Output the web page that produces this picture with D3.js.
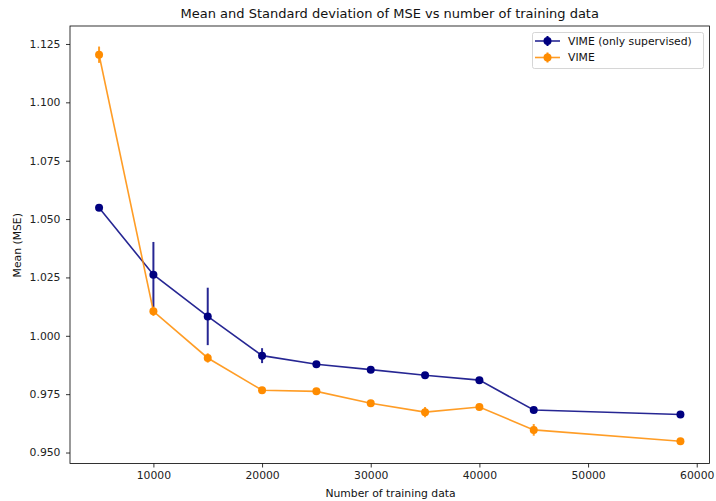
<!DOCTYPE html>
<html>
<head>
<meta charset="utf-8">
<script src="https://cdn.jsdelivr.net/npm/d3@7"></script>
<style>
  body { margin: 0; background: #fff; }
  svg { font-family: "DejaVu Sans", sans-serif; }
</style>
</head>
<body>
<svg id="chart" width="716" height="501"></svg>
<script>
// Training set sizes
const trainSizes = [5000, 10000, 15000, 20000, 25000, 30000, 35000, 40000, 45000, 58500];

// VIME (only supervised): mean MSE and standard deviation
const supMean = [1.0548, 1.0262, 1.0083, 0.9915, 0.9878, 0.9855, 0.9831, 0.9810, 0.9682, 0.9663];
const supStd  = [0.0005, 0.0140, 0.0123, 0.0032, 0.0010, 0.0010, 0.0010, 0.0010, 0.0010, 0.0010];

// VIME: mean MSE and standard deviation
const vimeMean = [1.1204, 1.0105, 0.9905, 0.9767, 0.9762, 0.9711, 0.9673, 0.9695, 0.9597, 0.9548];
const vimeStd  = [0.0035, 0.0020, 0.0020, 0.0010, 0.0010, 0.0010, 0.0022, 0.0010, 0.0025, 0.0010];

const xTicks = [10000, 20000, 30000, 40000, 50000, 60000];
const yTicks = [0.950, 0.975, 1.000, 1.025, 1.050, 1.075, 1.100, 1.125];

const series = [
  { name: "VIME (only supervised)", mean: supMean, std: supStd, color: "#000080" },
  { name: "VIME", mean: vimeMean, std: vimeStd, color: "#ff8c00" }
];

const svg = d3.select("#chart");
const plotL = 70, plotR = 709.5, plotT = 26, plotB = 463.5;
const fs = 10.8;

const x = d3.scaleLinear().domain([2325, 61175]).range([plotL, plotR]);
const y = d3.scaleLinear().domain([0.9453, 1.1327]).range([plotB, plotT]);

// Axes
const xAxis = svg.append("g")
  .attr("transform", `translate(0,${plotB})`)
  .call(d3.axisBottom(x).tickValues(xTicks).tickFormat(d3.format("d")).tickSize(4).tickPadding(4));
const yAxis = svg.append("g")
  .attr("transform", `translate(${plotL},0)`)
  .call(d3.axisLeft(y).tickValues(yTicks).tickFormat(d3.format(".3f")).tickSize(4).tickPadding(5.5));
[xAxis, yAxis].forEach(g => {
  g.select(".domain").remove();
  g.selectAll("text").attr("font-size", fs).attr("fill", "#222").attr("font-family", "DejaVu Sans, sans-serif");
  g.selectAll("line").attr("stroke", "#000").attr("stroke-width", 0.8);
});

// Frame
svg.append("rect")
  .attr("x", plotL).attr("y", plotT)
  .attr("width", plotR - plotL).attr("height", plotB - plotT)
  .attr("fill", "none").attr("stroke", "#000").attr("stroke-width", 0.8);

// Series: line, error bars, markers
const line = d3.line().x(d => x(d[0])).y(d => y(d[1]));
series.forEach(s => {
  const pts = trainSizes.map((t, i) => [t, s.mean[i], s.std[i]]);
  const g = svg.append("g");
  g.append("path").datum(pts)
    .attr("d", line)
    .attr("fill", "none")
    .attr("stroke", s.color)
    .attr("stroke-opacity", 0.85)
    .attr("stroke-width", 1.6);
  g.selectAll("line.err").data(pts).enter().append("line")
    .attr("class", "err")
    .attr("x1", d => x(d[0])).attr("x2", d => x(d[0]))
    .attr("y1", d => y(d[1] - d[2])).attr("y2", d => y(d[1] + d[2]))
    .attr("stroke", s.color).attr("stroke-opacity", 0.85).attr("stroke-width", 2);
  g.selectAll("circle").data(pts).enter().append("circle")
    .attr("cx", d => x(d[0])).attr("cy", d => y(d[1]))
    .attr("r", 4).attr("fill", s.color);
});

// Title and axis labels
svg.append("text")
  .attr("x", (plotL + plotR) / 2).attr("y", 17.8)
  .attr("text-anchor", "middle").attr("font-size", 13).attr("fill", "#111")
  .text("Mean and Standard deviation of MSE vs number of training data");
svg.append("text")
  .attr("x", 390.5).attr("y", 497)
  .attr("text-anchor", "middle").attr("font-size", fs).attr("fill", "#111")
  .text("Number of training data");
svg.append("text")
  .attr("transform", `translate(21,245.3) rotate(-90)`)
  .attr("text-anchor", "middle").attr("font-size", fs).attr("fill", "#111")
  .text("Mean (MSE)");

// Legend
const lg = svg.append("g");
lg.append("rect")
  .attr("x", 532.5).attr("y", 32.5).attr("width", 171).attr("height", 36).attr("rx", 2)
  .attr("fill", "#fff").attr("fill-opacity", 0.8).attr("stroke", "#ccc").attr("stroke-width", 0.8);
series.forEach((s, i) => {
  const ly = 41 + i * 16.5;
  lg.append("line")
    .attr("x1", 535).attr("x2", 560).attr("y1", ly).attr("y2", ly)
    .attr("stroke", s.color).attr("stroke-opacity", 0.85).attr("stroke-width", 1.6);
  lg.append("line")
    .attr("x1", 547.5).attr("x2", 547.5).attr("y1", ly - 5).attr("y2", ly + 5)
    .attr("stroke", s.color).attr("stroke-width", 2);
  lg.append("circle").attr("cx", 547.5).attr("cy", ly).attr("r", 4).attr("fill", s.color);
  lg.append("text")
    .attr("x", 568).attr("y", ly + 3.9).attr("font-size", fs).attr("fill", "#111")
    .text(s.name);
});
</script>
</body>
</html>
